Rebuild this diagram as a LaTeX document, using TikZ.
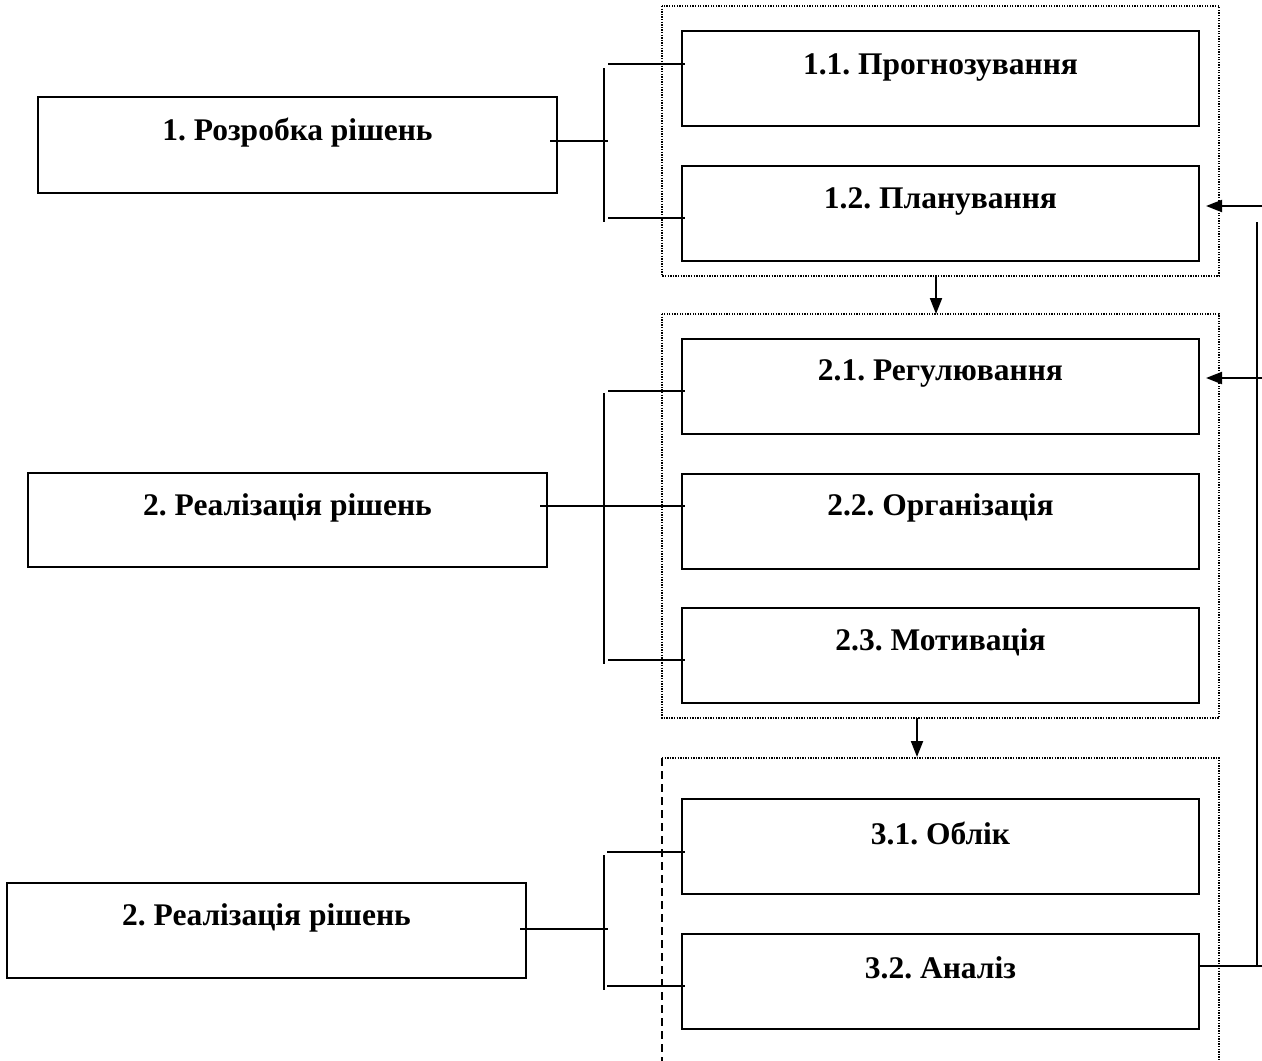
\documentclass[tikz,border=0pt]{standalone}
\usepackage{fontspec}
\setmainfont{Liberation Serif}
\frenchspacing
\usetikzlibrary{arrows.meta,calc}
\tikzset{
  blk/.style={draw, line width=2pt, rectangle, minimum width=517pt, minimum height=95pt, anchor=north west, inner sep=0pt},
  lbl/.style={font=\bfseries\fontsize{31.5}{34}\selectfont, inner sep=0pt, anchor=center, yshift=-3pt},
  grp/.style={line width=1.3pt, dash pattern=on 1.3pt off 1.3pt},
  dsh/.style={line width=1.5pt, dash pattern=on 8pt off 5pt},
  ln/.style={line width=2pt},
  arr/.style={line width=2pt, -{Stealth[length=16pt,width=12pt,inset=0pt]}},
}
\begin{document}
\begin{tikzpicture}[x=1pt,y=-1pt]
\useasboundingbox (0,0) rectangle (1262,1061);
\fill[white] (0,0) rectangle (1262,1061);
% group frames
\draw[grp] (662,6) rectangle (1219,276);
\draw[grp] (662,314) rectangle (1219,718);
\draw[grp] (662,758) -- (1219,758) -- (1219,1061);
\draw[dsh] (662,758) -- (662,1061);
\coordinate (g1b) at (936,277);
\coordinate (g2t) at (936,314);
\coordinate (g2b) at (917,718);
\coordinate (g3t) at (917,757);
% boxes
\node[blk, minimum width=519pt, minimum height=96pt] (L1) at (37,96) {};
\node[lbl] at ($(L1.north)+(0,34)$) {1. Розробка рішень};
\node[blk] (B11) at (681,30) {};
\node[lbl] at ($(B11.north)+(0,34)$) {1.1. Прогнозування};
\node[blk] (B12) at (681,165) {};
\node[lbl] at ($(B12.north)+(0,33)$) {1.2. Планування};

\node[blk, minimum width=519pt, minimum height=94pt] (L2) at (27,472) {};
\node[lbl] at ($(L2.north)+(0,33)$) {2. Реалізація рішень};
\node[blk] (B21) at (681,338) {};
\node[lbl] at ($(B21.north)+(0,32)$) {2.1. Регулювання};
\node[blk] (B22) at (681,473) {};
\node[lbl] at ($(B22.north)+(0,32)$) {2.2. Організація};
\node[blk] (B23) at (681,607) {};
\node[lbl] at ($(B23.north)+(0,32)$) {2.3. Мотивація};

\node[blk, minimum width=519pt, minimum height=95pt] (L3) at (6,882) {};
\node[lbl] at ($(L3.north)+(0,33)$) {2. Реалізація рішень};
\node[blk] (B31) at (681,798) {};
\node[lbl] at ($(B31.north)+(0,32)$) {3.1. Облік};
\node[blk] (B32) at (681,933) {};
\node[lbl] at ($(B32.north)+(0,32)$) {3.2. Аналіз};

% group 1 connectors
\coordinate (v1t) at (604,68);
\coordinate (v1b) at (604,222);
\draw[ln] (v1t) -- (v1b);
\draw[ln] (550,141) -- (608,141);
\draw[ln] (608,64) -- ([xshift=4pt]B11.west |- 0,64);
\draw[ln] (608,218) -- ([xshift=4pt]B12.west |- 0,218);
% group 2 connectors
\coordinate (v2t) at (604,393);
\coordinate (v2b) at (604,664);
\draw[ln] (v2t) -- (v2b);
\draw[ln] (540,506) -- ([xshift=4pt]B22.west |- 0,506);
\draw[ln] (608,391) -- ([xshift=4pt]B21.west |- 0,391);
\draw[ln] (608,660) -- ([xshift=4pt]B23.west |- 0,660);
% group 3 connectors
\coordinate (v3t) at (604,855);
\coordinate (v3b) at (604,990);
\draw[ln] (v3t) -- (v3b);
\draw[ln] (520,929) -- (608,929);
\draw[ln] (607,852) -- ([xshift=4pt]B31.west |- 0,852);
\draw[ln] (607,986) -- ([xshift=4pt]B32.west |- 0,986);
% arrows between groups
\draw[arr] (g1b) -- (g2t);
\draw[arr] (g2b) -- (g3t);
% feedback
\coordinate (fbtop) at (1257,222);
\coordinate (fbbot) at (1257,966);
\coordinate (fe1) at (1262,206);
\coordinate (fe2) at (1262,378);
\coordinate (fe3) at (1262,966);
\draw[ln] (fbtop) -- (fbbot);
\draw[ln] ([xshift=-1pt]B32.east |- fe3) -- (fe3);
\draw[arr] (fe1) -- ([xshift=6pt]B12.east |- fe1);
\draw[arr] (fe2) -- ([xshift=6pt]B21.east |- fe2);
\end{tikzpicture}
\end{document}
